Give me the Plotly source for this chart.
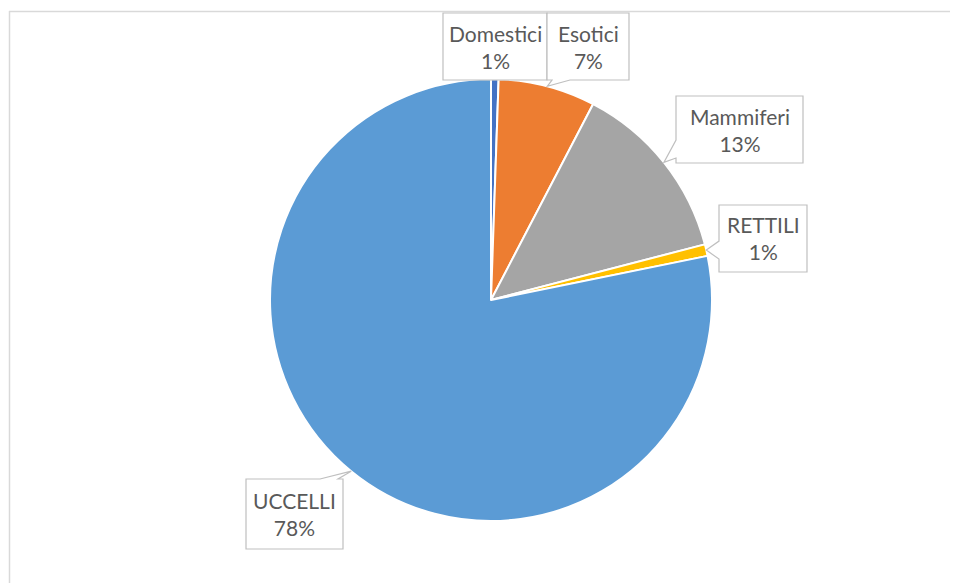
import math
import plotly.graph_objects as go

# ---- data ----
categories = ["Domestici", "Esotici", "Mammiferi", "RETTILI", "UCCELLI"]
values = [0.55, 7.1, 13.3, 0.85, 78.2]
colors = ["#4472C4", "#ED7D31", "#A5A5A5", "#FFC000", "#5B9BD5"]

# ---- layout constants (screen pixels) ----
W, H = 958, 583
OFF = 8  # default page body margin
FW, FH = W - OFF, H - OFF
CX, CY, R = 491, 300, 221
label_boxes = {
    "Domestici": (443, 13, 547, 80),
    "Esotici": (547, 13, 629, 80),
    "Mammiferi": (676, 96, 803, 163),
    "RETTILI": (719, 205, 807, 272),
    "UCCELLI": (246, 479, 343, 549),
}
TEXT_COLOR = "#595959"
BOX_COLOR = "#BFBFBF"
FONT = "Lato, Open Sans, Arial, sans-serif"


def px(x):
    return (x - OFF) / FW


def py(y):
    return 1 - (y - OFF) / FH


fig = go.Figure(
    go.Pie(
        labels=categories,
        values=values,
        sort=False,
        direction="clockwise",
        rotation=0,
        marker=dict(colors=colors, line=dict(color="white", width=2)),
        textinfo="none",
        hoverinfo="label+percent",
        domain=dict(x=[px(CX - R), px(CX + R)], y=[py(CY + R), py(CY - R)]),
        showlegend=False,
    )
)

total = sum(values)
shapes = []
annotations = []
cum = 0.0
for lab, v in zip(categories, values):
    start = cum
    cum += v
    mid = (start + cum) / 2 / total * 2 * math.pi
    tx = CX + R * math.sin(mid)
    ty = CY - R * math.cos(mid)
    x0, y0, x1, y1 = label_boxes[lab]
    bw, m = 18, 5
    pts = [(x0, y0)]
    if ty < y0 - 2:  # top edge
        c = min(max(tx, x0 + bw / 2 + m), x1 - bw / 2 - m)
        pts += [(c - bw / 2, y0), (tx, ty), (c + bw / 2, y0)]
    pts += [(x1, y0)]
    if tx > x1 + 2 and not (ty < y0 - 2):  # right edge
        c = min(max(ty, y0 + bw / 2 + m), y1 - bw / 2 - m)
        pts += [(x1, c - bw / 2), (tx, ty), (x1, c + bw / 2)]
    pts += [(x1, y1)]
    if ty > y1 + 2:  # bottom edge
        c = min(max(tx, x0 + bw / 2 + m), x1 - bw / 2 - m)
        pts += [(c + bw / 2, y1), (tx, ty), (c - bw / 2, y1)]
    pts += [(x0, y1)]
    if tx < x0 - 2 and y0 - 2 <= ty <= y1 + 2:  # left edge
        c = min(max(ty, y0 + bw / 2 + m), y1 - bw / 2 - m)
        pts += [(x0, c + bw / 2), (tx, ty), (x0, c - bw / 2)]
    path = "M " + " L ".join(f"{px(a):.5f},{py(b):.5f}" for a, b in pts) + " Z"
    shapes.append(
        dict(
            type="path",
            path=path,
            xref="paper",
            yref="paper",
            line=dict(color=BOX_COLOR, width=1.2),
            fillcolor="white",
            layer="above",
        )
    )
    pct = int(round(v / total * 100 + 1e-9)) if v / total * 100 >= 0.5 else 0
    annotations.append(
        dict(
            x=px((x0 + x1) / 2),
            y=py((y0 + y1) / 2),
            xref="paper",
            yref="paper",
            xanchor="center",
            yanchor="middle",
            showarrow=False,
            align="center",
            text=f"{lab}<br>{pct}%",
            font=dict(family=FONT, size=21, color=TEXT_COLOR),
        )
    )

# chart area border (only top and left visible)
shapes.append(dict(type="line", xref="paper", yref="paper",
                   x0=px(9), y0=py(11.5), x1=px(W + 5), y1=py(11.5),
                   line=dict(color="#D9D9D9", width=1.5), layer="below"))
shapes.append(dict(type="line", xref="paper", yref="paper",
                   x0=px(9.5), y0=py(11), x1=px(9.5), y1=py(H + 5),
                   line=dict(color="#D9D9D9", width=1.5), layer="below"))

fig.update_layout(
    width=FW,
    height=FH,
    margin=dict(l=0, r=0, t=0, b=0),
    paper_bgcolor="white",
    plot_bgcolor="white",
    shapes=shapes,
    annotations=annotations,
    showlegend=False,
)

fig.write_html("out.html")
